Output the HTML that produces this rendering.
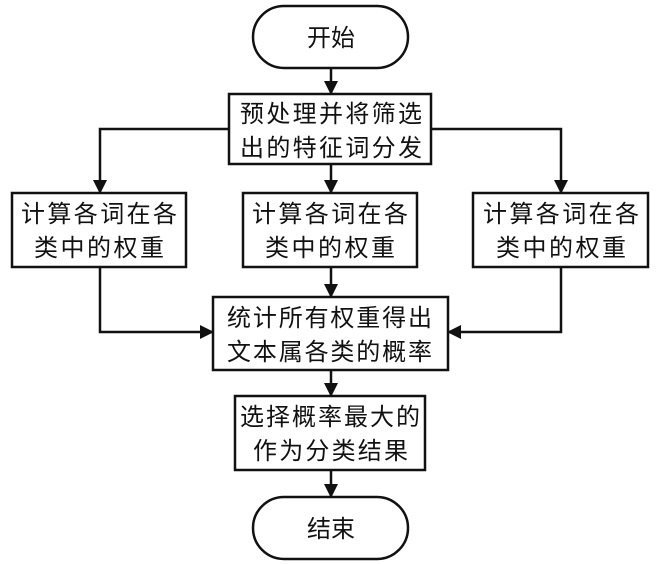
<!DOCTYPE html>
<html><head><meta charset="utf-8"><style>
html,body{margin:0;padding:0;background:#fff;}
svg{display:block;}
text{font-family:"Liberation Sans","Noto Sans CJK SC",sans-serif;font-size:24px;fill:#111;}
</style></head><body>
<svg width="664" height="564" viewBox="0 0 664 564" xmlns="http://www.w3.org/2000/svg">
<defs><marker id="a" markerWidth="14" markerHeight="14" refX="13" refY="7" orient="auto" markerUnits="userSpaceOnUse"><path d="M0,0 L14,7 L0,14 z" fill="#111"/></marker></defs>
<g stroke="#111" stroke-width="2.5" fill="none">
<rect x="253" y="6" width="155" height="62" rx="31" ry="31"/>
<rect x="229" y="94" width="202" height="70"/>
<rect x="12" y="193" width="174" height="74"/>
<rect x="243" y="193" width="174" height="74"/>
<rect x="473" y="193" width="175" height="74"/>
<rect x="213" y="297" width="235" height="73"/>
<rect x="235" y="396" width="190" height="74"/>
<rect x="253" y="497" width="155" height="62" rx="31" ry="31"/>
</g>
<g stroke="#111" stroke-width="2.5" fill="none" marker-end="url(#a)">
<path d="M331,68 V94"/>
<path d="M331,164 V193"/>
<path d="M229,129 H100 V193"/>
<path d="M431,129 H561 V193"/>
<path d="M331,267 V297"/>
<path d="M100,267 V332 H213"/>
<path d="M561,267 V332 H448"/>
<path d="M331,370 V396"/>
<path d="M331,470 V497"/>
</g>
<text x="331" y="46" text-anchor="middle">开始</text>
<text x="240" y="122" textLength="182">预处理并将筛选</text>
<text x="240" y="156" textLength="182">出的特征词分发</text>
<text x="21" y="222" textLength="156">计算各词在各</text>
<text x="34" y="256" textLength="130">类中的权重</text>
<text x="252" y="222" textLength="156">计算各词在各</text>
<text x="265" y="256" textLength="130">类中的权重</text>
<text x="483" y="222" textLength="156">计算各词在各</text>
<text x="496" y="256" textLength="130">类中的权重</text>
<text x="227" y="326" textLength="205">统计所有权重得出</text>
<text x="227" y="360" textLength="205">文本属各类的概率</text>
<text x="240" y="425" textLength="180">选择概率最大的</text>
<text x="253" y="459" textLength="155">作为分类结果</text>
<text x="331" y="537" text-anchor="middle">结束</text>
</svg>
</body></html>
